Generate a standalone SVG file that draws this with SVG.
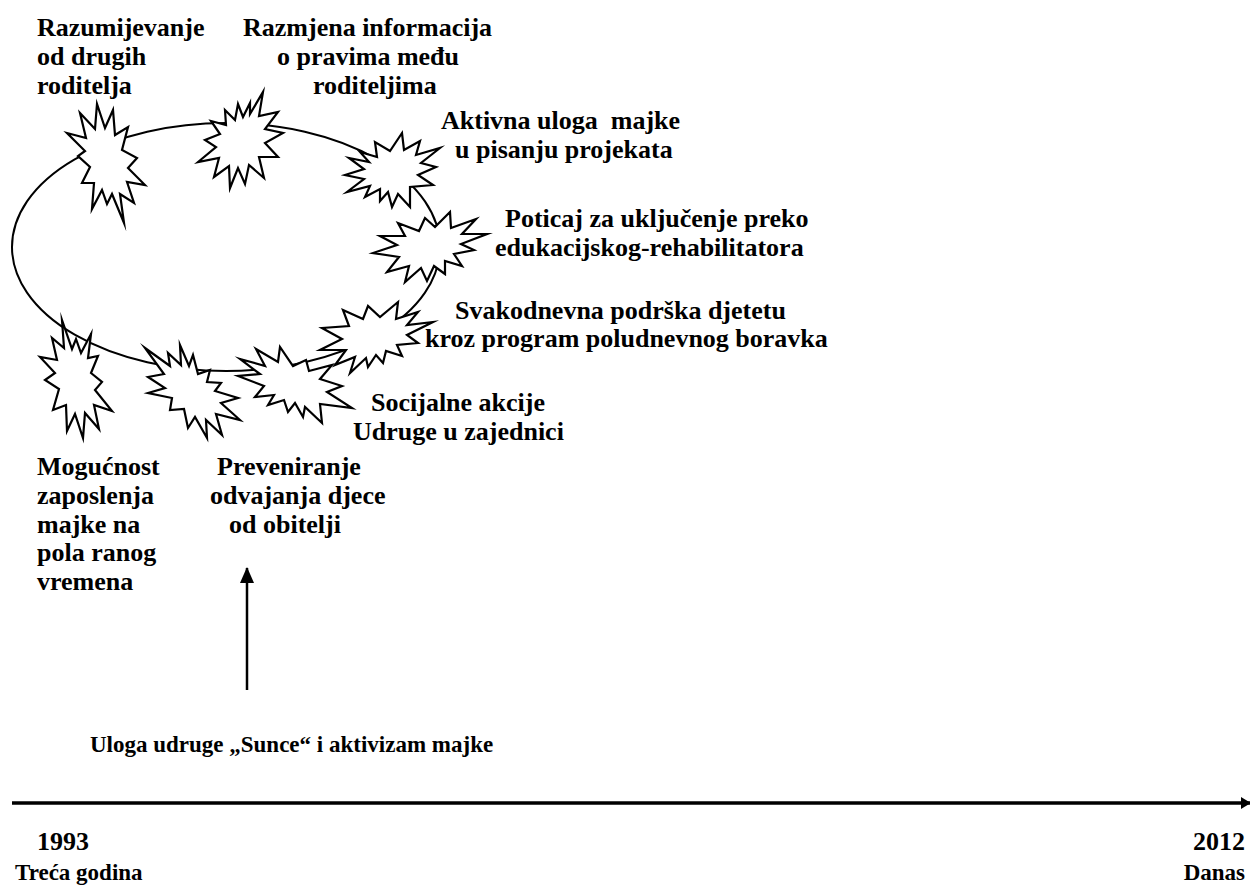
<svg xmlns="http://www.w3.org/2000/svg" width="1250" height="887" viewBox="0 0 1250 887">
<style>
  .t { font-family: "Liberation Serif", "Times New Roman", serif; font-weight: bold; font-size: 26px; fill: #000; white-space: pre; }
  .s { font-size: 23px; }
  .star { fill: #fff; stroke: #000; stroke-width: 2.2; stroke-linejoin: miter; stroke-miterlimit: 10; }
  .ring { fill: none; stroke: #000; stroke-width: 2; }
  .conn { fill: none; stroke: #000; }
</style>
<defs>
  <marker id="ah" markerWidth="10" markerHeight="12" refX="9" refY="6" orient="auto" markerUnits="userSpaceOnUse">
    <path d="M0,0 L10,6 L0,12 Z" fill="#000"/>
  </marker>
  <marker id="ah2" markerWidth="16" markerHeight="16" refX="15" refY="8" orient="auto" markerUnits="userSpaceOnUse">
    <path d="M0,1 L16,8 L0,15 Z" fill="#000"/>
  </marker>
</defs>
<rect width="1250" height="887" fill="#fff"/>

<g id="connectors">
  <ellipse class="ring" cx="226" cy="247" rx="214" ry="124"/>
  <line class="conn" x1="247" y1="690" x2="247" y2="568" stroke-width="2.5" marker-end="url(#ah2)"/>
  <line class="conn" x1="12" y1="803" x2="1250" y2="803" stroke-width="3.5" marker-end="url(#ah)"/>
</g>

<g id="star-razumijevanje">
  <polygon class="star" points="80,113 95,129 97,104 105,128 113,110 115,135 128,127 122,150 137,158 128,168 145,185 127,182 134,203 120,194 124,223 112,194 107,204 102,190 92,209 94,183 82,183 90,167 78,156 85,151 67,133 86,138"/>
  <text class="t" x="37" y="36">Razumijevanje</text>
  <text class="t" x="37" y="65">od drugih</text>
  <text class="t" x="37" y="94">roditelja</text>
</g>

<g id="star-razmjena">
  <polygon class="star" points="211,121 226,125 225,110 235,120 238,104 243,117 250,103 250,114 263,92 259,116 278,112 265,129 283,133 265,143 278,157 259,157 264,178 249,165 245,184 238,168 230,188 229,166 214,177 219,158 198,162 216,147 205,140 220,134"/>
  <text class="t" x="243" y="36">Razmjena informacija</text>
  <text class="t" x="277" y="65">o pravima među</text>
  <text class="t" x="313" y="94">roditeljima</text>
</g>

<g id="star-aktivna">
  <polygon class="star" points="360,152 377,157 375,142 390,151 402,133 404,150 420,141 416,155 440,148 421,163 436,167 418,175 433,185 410,187 410,207 398,194 392,207 388,192 380,201 380,189 365,197 370,186 347,192 364,179 345,175 364,169 349,158 369,162"/>
  <text class="t" x="441" y="129">Aktivna uloga  majke</text>
  <text class="t" x="455" y="158">u pisanju projekata</text>
</g>

<g id="star-poticaj">
  <polygon class="star" points="425,218 419,231 398,223 405,236 380,236 397,245 373,253 399,257 387,272 409,266 405,282 421,268 427,281 434,266 445,274 445,261 462,266 454,254 474,250 461,244 487,234 462,234 476,219 451,228 450,212 435,227"/>
  <text class="t" x="505" y="227">Poticaj za uključenje preko</text>
  <text class="t" x="495" y="256">edukacijskog-rehabilitatora</text>
</g>

<g id="star-svakodnevna">
  <polygon class="star" points="343,310 363,319 368,306 380,317 398,302 396,319 418,312 407,325 433,322 407,335 418,343 397,345 402,356 386,351 383,363 376,355 368,367 366,358 350,373 355,357 335,365 346,350 320,350 342,339 322,328 349,326"/>
  <text class="t" x="455" y="319">Svakodnevna podrška djetetu</text>
  <text class="t" x="425" y="347">kroz program poludnevnog boravka</text>
</g>

<g id="star-socijalne">
  <polygon class="star" points="240,359 265,366 256,349 278,362 280,347 293,366 306,360 309,371 332,365 320,379 342,386 327,392 352,408 320,404 322,423 305,407 303,417 295,403 288,412 284,400 268,405 274,395 255,397 264,386 238,376 260,374"/>
  <text class="t" x="371" y="411">Socijalne akcije</text>
  <text class="t" x="353" y="440">Udruge u zajednici</text>
</g>

<g id="star-preveniranje">
  <polygon class="star" points="145,348 170,366 168,353 181,365 180,345 189,366 193,355 198,374 210,370 207,382 221,383 215,391 238,398 221,403 240,420 216,414 222,435 206,420 207,438 195,417 188,428 184,409 170,410 172,398 148,393 165,388 148,377 164,374"/>
  <text class="t" x="217" y="475">Preveniranje</text>
  <text class="t" x="210" y="504">odvajanja djece</text>
  <text class="t" x="229" y="533">od obitelji</text>
</g>

<g id="star-mogucnost">
  <polygon class="star" points="62,320 72,349 76,339 81,353 91,334 88,358 98,356 91,373 102,382 95,390 112,411 94,405 99,429 85,413 83,438 75,414 67,431 66,405 53,410 59,389 45,380 55,373 40,357 57,360 52,338 64,348"/>
  <text class="t" x="37" y="475">Mogućnost</text>
  <text class="t" x="37" y="504">zaposlenja</text>
  <text class="t" x="37" y="533">majke na</text>
  <text class="t" x="37" y="561">pola ranog</text>
  <text class="t" x="37" y="590">vremena</text>
</g>

<g id="label-uloga">
  <text class="t s" x="90" y="752">Uloga udruge „Sunce“ i aktivizam majke</text>
</g>

<g id="timeline-labels">
  <text class="t" x="37" y="850">1993</text>
  <text class="t s" x="15" y="880">Treća godina</text>
  <text class="t" x="1245" y="850" text-anchor="end">2012</text>
  <text class="t s" x="1245" y="880" text-anchor="end">Danas</text>
</g>
</svg>
